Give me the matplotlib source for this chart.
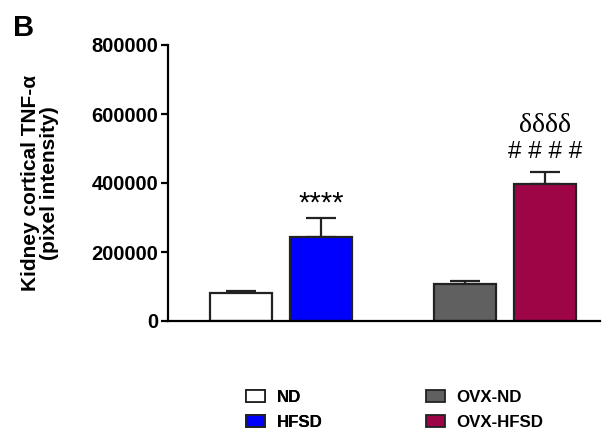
import matplotlib
matplotlib.use("Agg")
import matplotlib.pyplot as plt
from matplotlib.patches import Patch

groups = ["ND", "HFSD", "OVX-ND", "OVX-HFSD"]
means = [81000, 243000, 107000, 397000]
sems = [6000, 55000, 9000, 35000]
colors = ["#FFFFFF", "#0000FF", "#606060", "#9E0547"]
yticks = [0, 200000, 400000, 600000, 800000]
positions = [0, 1, 2.8, 3.8]

plt.rcParams['font.family'] = ['Liberation Sans', 'DejaVu Sans']
fig = plt.figure(figsize=(6.08, 4.30), dpi=100)
ax = fig.add_axes([168/608, 1-321/430, (600-168)/608, (321-45)/430])

ax.bar(positions, means, width=0.775, color=colors, edgecolor="#222222", linewidth=1.6, zorder=2)
ax.errorbar(positions, means, yerr=[[0]*4, sems], fmt="none", ecolor="#222222",
            elinewidth=1.6, capsize=11, capthick=1.6, zorder=1)

ax.set_ylim(0, 800000)
ax.set_xlim(-0.9125, 4.49)
ax.set_yticks(yticks)
ax.set_yticklabels([str(v) for v in yticks], fontweight="bold", fontsize=14.5)
ax.set_xticks([])
for s in ["top", "right"]:
    ax.spines[s].set_visible(False)
for s in ["left", "bottom"]:
    ax.spines[s].set_linewidth(1.6)
    ax.spines[s].set_clip_on(False)
ax.tick_params(axis="y", length=5, width=1.6, pad=2)

ax.set_ylabel("Kidney cortical TNF-α\n(pixel intensity)", fontweight="bold", fontsize=15, labelpad=23, linespacing=1.0)

ax.text(positions[1], means[1] + sems[1] + 2000, "****", ha="center", va="bottom", fontsize=21)
ax.text(positions[3], means[3] + sems[3] + 25000, "# # # #", ha="center", va="bottom", fontsize=17.5)
ax.text(positions[3], means[3] + sems[3] + 98000, "δδδδ", ha="center", va="bottom", fontsize=20,
        family=["Liberation Serif", "DejaVu Serif"])

fig.text(13/608, 1-36/430, "B", fontsize=21, fontweight="bold", ha="left", va="baseline")

handles = [Patch(facecolor=c, edgecolor="#222222", linewidth=1.3) for c in colors]
kw = dict(frameon=False, prop={"weight": "bold", "size": 12.2}, handlelength=1.1, handleheight=0.65,
          labelspacing=0.58, handletextpad=0.7, borderpad=0, borderaxespad=0)
leg1 = fig.legend(handles[:2], groups[:2], loc="upper left", bbox_to_anchor=(246/608, 1-390/430), **kw)
fig.add_artist(leg1)
fig.legend(handles[2:], groups[2:], loc="upper left", bbox_to_anchor=(426/608, 1-390/430), **kw)

fig.savefig("out.png", dpi=100)
